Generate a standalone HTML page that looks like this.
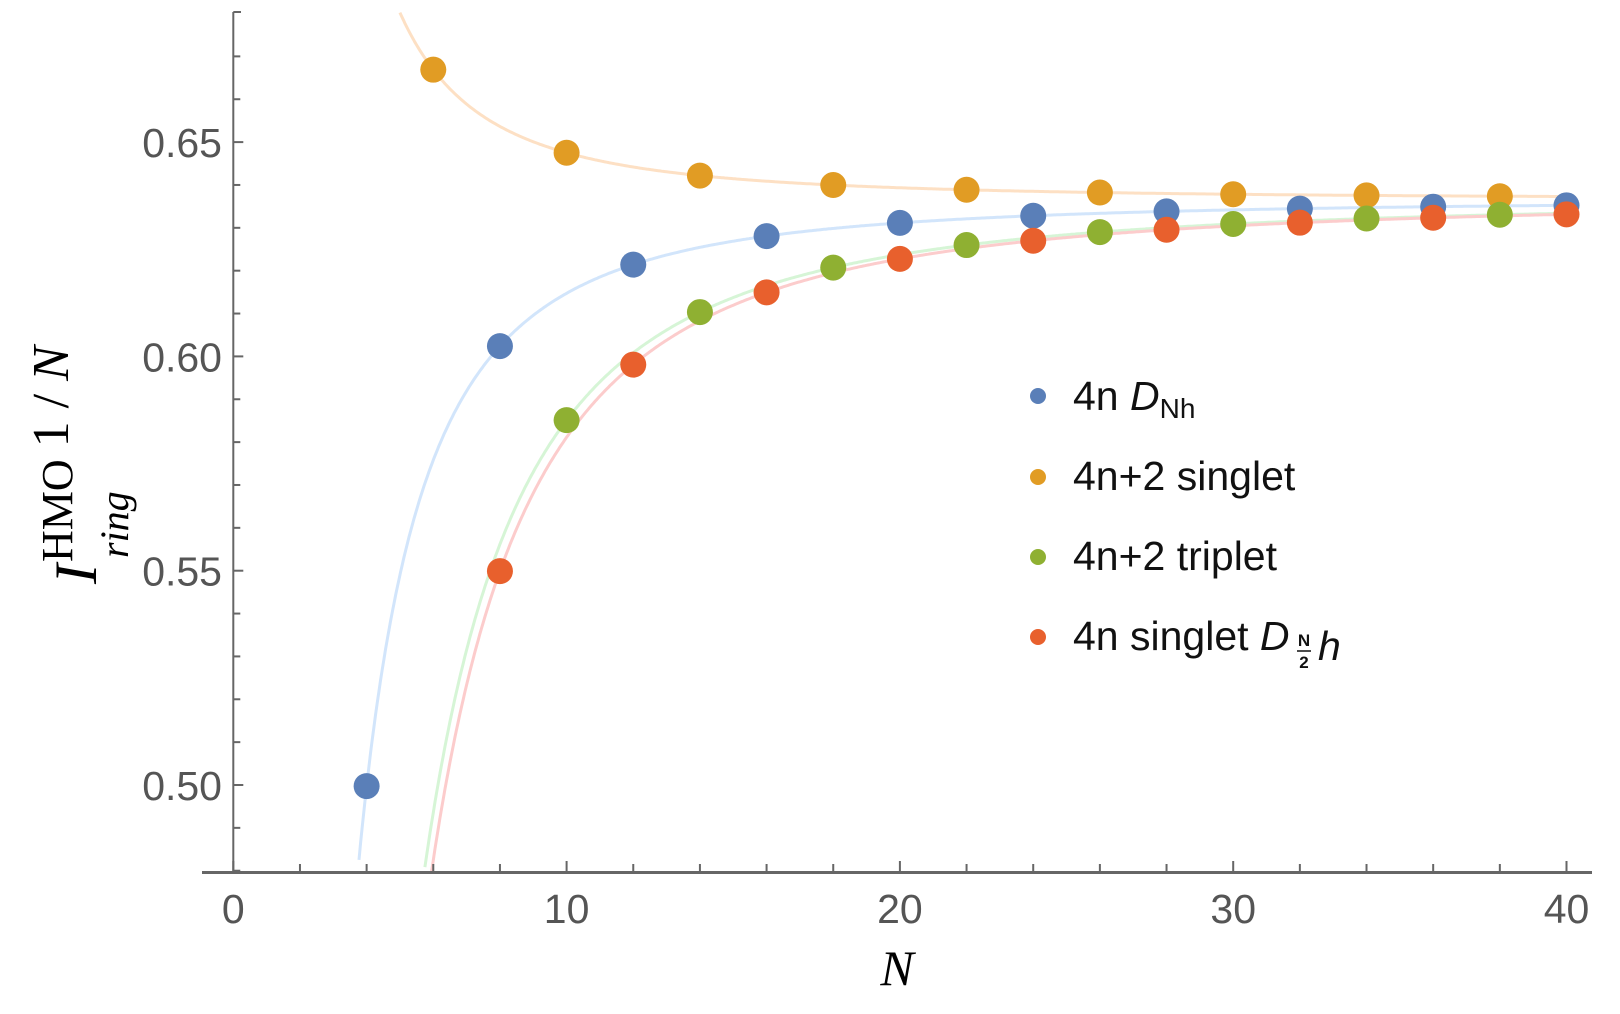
<!DOCTYPE html>
<html><head><meta charset="utf-8"><style>
html,body{margin:0;padding:0;background:#fff;width:1620px;height:1014px;overflow:hidden}
</style></head><body>
<svg id="s" width="1620" height="1014" viewBox="0 0 1620 1014" xmlns="http://www.w3.org/2000/svg">
<g id="curves" fill="none" stroke-width="3"></g>
<g id="pts"></g>
<g id="axes" stroke="#666" fill="none"></g>
<g font-family="Liberation Sans, sans-serif" font-size="41" fill="#555" id="lbls"></g>
<text x="897" y="985" font-family="Liberation Serif, serif" font-style="italic" font-size="50" text-anchor="middle" fill="#000">N</text>
<text transform="translate(96,584) rotate(-90)" font-family="Liberation Serif, serif" fill="#000" font-size="60"><tspan font-style="italic">I</tspan><tspan font-size="44" dy="-24" dx="2">HMO</tspan><tspan font-size="52" dy="-4" dx="12">1 / </tspan><tspan font-style="italic" font-size="52">N</tspan></text>
<text transform="translate(128,558) rotate(-90)" font-family="Liberation Serif, serif" fill="#000" font-size="40" font-style="italic">ring</text>
<g font-family="Liberation Sans, sans-serif" font-size="41" fill="#111">
<circle cx="1038" cy="396" r="8" fill="#5a7fb8"/>
<circle cx="1038" cy="477" r="8" fill="#e19c24"/>
<circle cx="1038" cy="557" r="8" fill="#8fb032"/>
<circle cx="1038" cy="637" r="8" fill="#e8602d"/>
<text x="1073" y="410">4n <tspan font-style="italic">D</tspan><tspan font-size="28" dy="8">Nh</tspan></text>
<text x="1073" y="490">4n+2 singlet</text>
<text x="1073" y="570">4n+2 triplet</text>
<text x="1073" y="650">4n singlet <tspan font-style="italic">D</tspan></text>
<text x="1304" y="646" font-size="17" font-weight="bold" text-anchor="middle">N</text>
<line x1="1297" y1="651" x2="1311" y2="651" stroke="#111" stroke-width="1.5"/>
<text x="1304" y="668" font-size="17" font-weight="bold" text-anchor="middle">2</text>
<text x="1318" y="660" font-style="italic">h</text>
</g>
</svg>
<script>
var NS="http://www.w3.org/2000/svg";
function X(n){return 233.3+n*33.33;}
function Y(v){return 785-(v-0.5)*4286;}
function el(t,a,p){var e=document.createElementNS(NS,t);for(var k in a)e.setAttribute(k,a[k]);p.appendChild(e);return e;}
var L=2/Math.PI;
var ser=[
 {c:"#5a7fb8",lc:"#d2e5fb",f:function(n){return L-2.19/(n*n);},pts:[4,8,12,16,20,24,28,32,36,40],n0:3.72},
 {c:"#e19c24",lc:"#fde0c4",f:function(n){return L+1.09/(n*n);},pts:[6,10,14,18,22,26,30,34,38],n0:4.8},
 {c:"#8fb032",lc:"#d6f5d6",f:function(n){return L-5.15/(n*n);},pts:[10,14,18,22,26,30,34,38],n0:5.6},
 {c:"#e8602d",lc:"#fccccc",f:function(n){return L-5.55/(n*n);},pts:[8,12,16,20,24,28,32,36,40],n0:5.8}
];
var cg=document.getElementById("curves"),pg=document.getElementById("pts");
ser.forEach(function(s){
 var d="";
 for(var n=s.n0;n<=40.001;n+=0.05){var y=Y(s.f(n));if(y>872)continue;if(y<12)continue;d+=(d?"L":"M")+X(n).toFixed(1)+","+y.toFixed(1);}
 el("path",{d:d,stroke:s.lc},cg);
});
ser.forEach(function(s){s.pts.forEach(function(n){el("circle",{cx:X(n),cy:Y(s.f(n)),r:13,fill:s.c},pg);});});
var ax=document.getElementById("axes"),lb=document.getElementById("lbls");
el("line",{x1:233.3,y1:12,x2:233.3,y2:872,"stroke-width":2},ax);
el("line",{x1:233.3,y1:12,x2:241,y2:12,"stroke-width":2},ax);
el("line",{x1:202,y1:872.5,x2:1592,y2:872.5,"stroke-width":3},ax);
for(var i=48;i<=67;i++){var v=i/100,y=Y(v);var maj=(i%5==0);
 el("line",{x1:233.3,y1:y,x2:233.3+(maj?10:7),y2:y,"stroke-width":2},ax);
 if(maj){var t=el("text",{x:222,y:y+15,"text-anchor":"end"},lb);t.textContent=v.toFixed(2);}}
for(var n=0;n<=40;n+=2){var x=X(n);var maj=(n%10==0);
 el("line",{x1:x,y1:872,x2:x,y2:872-(maj?11:8),"stroke-width":2},ax);
 if(maj){var t=el("text",{x:x,y:923,"text-anchor":"middle"},lb);t.textContent=n;}}
</script>
</body></html>
